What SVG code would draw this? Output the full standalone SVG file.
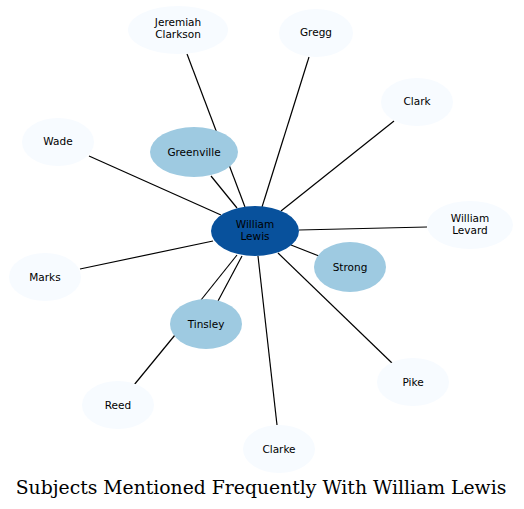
<svg xmlns="http://www.w3.org/2000/svg" width="524" height="509" viewBox="0 0 524 509">
<style>
.e{stroke:#000;stroke-width:1.2;fill:none}
.l{fill:#f7fbff}
.m{fill:#9ecae1}
.c{fill:#08519c}
text{font-family:"DejaVu Sans",sans-serif;font-size:10.5px;text-anchor:middle;fill:#000}
.t{font-family:"DejaVu Serif",serif;font-size:18.8px}
</style>
<rect width="524" height="509" fill="#fff"/>
<g id="edges">
<line class="e" x1="187" y1="54" x2="245" y2="207"/>
<line class="e" x1="309" y1="57" x2="262" y2="207"/>
<line class="e" x1="394" y1="121" x2="281" y2="211"/>
<line class="e" x1="89" y1="156" x2="221" y2="215"/>
<line class="e" x1="211" y1="176" x2="237" y2="208"/>
<line class="e" x1="299" y1="230" x2="427" y2="227"/>
<line class="e" x1="80" y1="269" x2="213" y2="241"/>
<line class="e" x1="291" y1="245" x2="319" y2="256"/>
<line class="e" x1="201" y1="300" x2="237" y2="255"/>
<line class="e" x1="218" y1="301" x2="242" y2="256"/>
<line class="e" x1="134" y1="385" x2="175" y2="335"/>
<line class="e" x1="277" y1="425" x2="258" y2="256"/>
<line class="e" x1="393" y1="364" x2="278" y2="253"/>
</g>
<g id="jeremiah_clarkson"><ellipse class="l" cx="178" cy="30" rx="50" ry="24"/><text x="178" y="26">Jeremiah</text><text x="178" y="38">Clarkson</text></g>
<g id="gregg"><ellipse class="l" cx="316" cy="33" rx="37" ry="24"/><text x="316" y="36">Gregg</text></g>
<g id="clark"><ellipse class="l" cx="417" cy="102" rx="36" ry="24"/><text x="417" y="105">Clark</text></g>
<g id="wade"><ellipse class="l" cx="58" cy="142" rx="36" ry="24"/><text x="58" y="145">Wade</text></g>
<g id="greenville"><ellipse class="m" cx="194" cy="152" rx="44" ry="25"/><text x="194" y="156">Greenville</text></g>
<g id="william_levard"><ellipse class="l" cx="470" cy="225" rx="43" ry="24"/><text x="470" y="222">William</text><text x="470" y="234">Levard</text></g>
<g id="william_lewis"><ellipse class="c" cx="255" cy="231" rx="44" ry="25"/><text x="255" y="228">William</text><text x="255" y="240">Lewis</text></g>
<g id="marks"><ellipse class="l" cx="45" cy="277" rx="36" ry="24"/><text x="45" y="281">Marks</text></g>
<g id="strong"><ellipse class="m" cx="350" cy="267" rx="36" ry="25"/><text x="350" y="271">Strong</text></g>
<g id="tinsley"><ellipse class="m" cx="206" cy="324" rx="36" ry="25"/><text x="206" y="328">Tinsley</text></g>
<g id="pike"><ellipse class="l" cx="413" cy="382" rx="36" ry="24"/><text x="413" y="386">Pike</text></g>
<g id="reed"><ellipse class="l" cx="118" cy="405" rx="36" ry="24"/><text x="118" y="409">Reed</text></g>
<g id="clarke"><ellipse class="l" cx="279" cy="449" rx="36" ry="24"/><text x="279" y="453">Clarke</text></g>
<text class="t" x="261" y="494">Subjects Mentioned Frequently With William Lewis</text>
</svg>
